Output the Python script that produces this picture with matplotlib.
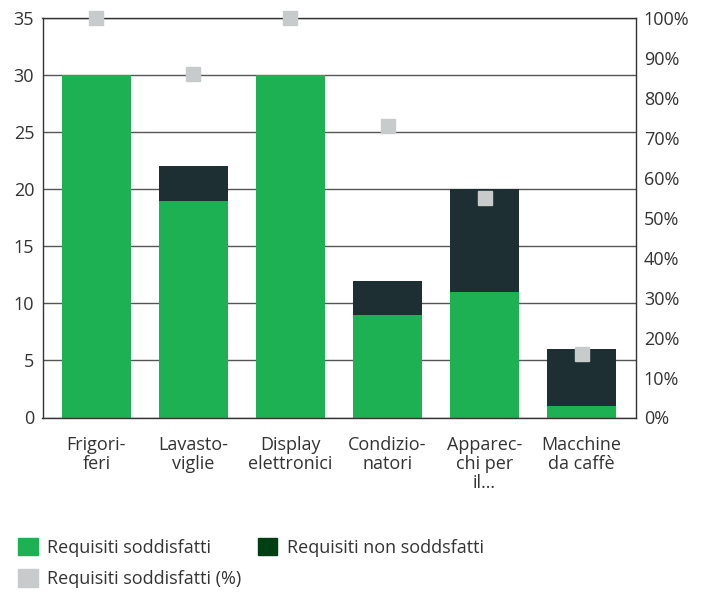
import numpy as np
import matplotlib
matplotlib.use("Agg")
import matplotlib.pyplot as plt
from matplotlib.patches import Patch

# data
categories = ["Frigori-\nferi", "Lavasto-\nviglie", "Display\nelettronici",
              "Condizio-\nnatori", "Apparec-\nchi per\nil\u2026", "Macchine\nda caff\u00e8"]
soddisfatti = [30, 19, 30, 9, 11, 1]
non_soddisfatti = [0, 3, 0, 3, 9, 5]
perc_soddisfatti = [100, 86, 100, 73, 55, 16]

green = "#1db154"
dark = "#1e2f33"
dark_legend = "#003f12"
grey = "#c8cbcb"
text_col = "#333333"
fs = 13

plt.rcParams['font.family'] = ['Open Sans', 'DejaVu Sans']
plt.rcParams['text.color'] = text_col

fig = plt.figure(figsize=(7.01, 5.92), dpi=100)
ax = fig.add_axes([42.5 / 701, 1 - 417.5 / 592, 593 / 701, 399.5 / 592])
x = np.arange(len(categories))

ax.bar(x, soddisfatti, width=0.72, color=green, zorder=2)
ax.bar(x, non_soddisfatti, width=0.72, bottom=soddisfatti, color=dark, zorder=2)
ax.set_ylim(0, 35)
ax.set_xlim(-0.556, len(categories) - 1 + 0.556)
ax.set_yticks(range(0, 36, 5))
ax.yaxis.grid(True, color="#555555", linewidth=1, zorder=0)
ax.set_axisbelow(True)
ax.set_xticks(x)
ax.set_xticklabels(categories, fontsize=fs, color=text_col, linespacing=1.1)
ax.tick_params(axis="both", length=0, labelsize=fs, labelcolor=text_col)
ax.tick_params(axis="x", pad=13)
ax.tick_params(axis="y", pad=6)
for s in ax.spines.values():
    s.set_color("#333333")
    s.set_linewidth(1)

ax2 = ax.twinx()
ax2.plot(x, perc_soddisfatti, linestyle="none", marker="s", markersize=10,
         color=grey, clip_on=False, zorder=5)
ax2.set_ylim(0, 100)
ax2.set_yticks(range(0, 101, 10))
ax2.set_yticklabels([f"{v}%" for v in range(0, 101, 10)])
ax2.tick_params(axis="y", length=0, labelsize=fs, labelcolor=text_col, pad=6)
for s in ax2.spines.values():
    s.set_visible(False)

# column-major fill: green / grey in first column, dark in second
handles = [Patch(color=green, label="Requisiti soddisfatti"),
           Patch(color=grey, label="Requisiti soddisfatti (%)"),
           Patch(color=dark_legend, label="Requisiti non soddsfatti")]
fig.legend(handles=handles, loc="upper left", bbox_to_anchor=(0.008, 0.113),
           ncol=2, frameon=False, fontsize=fs, handlelength=1.1, handleheight=1.1,
           handletextpad=0.5, columnspacing=0.9, labelspacing=0.7, borderpad=0.2)

fig.savefig("out.png", dpi=100)
